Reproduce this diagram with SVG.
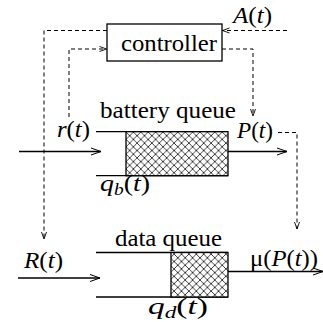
<svg xmlns="http://www.w3.org/2000/svg" width="323" height="322" viewBox="0 0 323 322">
<style>
text{font-family:"Liberation Serif","Times New Roman",serif;font-size:23px;fill:#000}
.i{font-style:italic}
.solid{fill:none;stroke:#000;stroke-width:1.3}
.dash{fill:none;stroke:#000;stroke-width:1;stroke-dasharray:4 3}
.box{fill:#fff;stroke:#000;stroke-width:1.3}
.hatch{fill:url(#xh);stroke:#000;stroke-width:1.3}
</style>
<defs>
<pattern id="xh" patternUnits="userSpaceOnUse" width="7.4" height="7.4" x="126" y="132">
<rect width="7.4" height="7.4" fill="#fff"/>
<path d="M-1,-1 L8.4,8.4 M8.4,-1 L-1,8.4" stroke="#000" stroke-width="0.75"/>
</pattern>
<marker id="as" markerUnits="userSpaceOnUse" markerWidth="12" markerHeight="8" refX="10" refY="3.5" orient="auto" overflow="visible">
<path d="M0,0 L10,3.5 L0,7" fill="none" stroke="#000" stroke-width="1" stroke-dasharray="none"/>
</marker>
<marker id="ad" markerUnits="userSpaceOnUse" markerWidth="8" markerHeight="6" refX="7" refY="2.5" orient="auto" overflow="visible">
<path d="M0,0 L7,2.5 L0,5" fill="none" stroke="#000" stroke-width="0.9" stroke-dasharray="none"/>
</marker>
</defs>

<g id="controller">
<rect class="box" x="107" y="24" width="115" height="37"/>
<text x="121" y="51" textLength="96" lengthAdjust="spacingAndGlyphs">controller</text>
</g>

<g id="battery-queue">
<path class="solid" d="M96,131.7 H228 M96,175.7 H228"/>
<rect class="hatch" x="126" y="131.7" width="102" height="44"/>
<text x="100" y="118" textLength="136" lengthAdjust="spacingAndGlyphs">battery queue</text>
<text x="100" y="191" textLength="50" lengthAdjust="spacingAndGlyphs"><tspan class="i">q</tspan><tspan class="i" font-size="16" dy="4">b</tspan><tspan dy="-4">(</tspan><tspan class="i">t</tspan>)</text>
</g>

<g id="data-queue">
<path class="solid" d="M96,252.5 H228 M96,297 H228"/>
<rect class="hatch" x="171" y="252.5" width="57" height="44.5"/>
<text x="115" y="246" textLength="107" lengthAdjust="spacingAndGlyphs">data queue</text>
<text x="148" y="314" textLength="60" lengthAdjust="spacingAndGlyphs"><tspan class="i">q</tspan><tspan class="i" font-size="16" dy="4">d</tspan><tspan dy="-4">(</tspan><tspan class="i">t</tspan>)</text>
</g>

<g id="labels">
<text x="233" y="23" textLength="39" lengthAdjust="spacingAndGlyphs"><tspan class="i">A</tspan>(<tspan class="i">t</tspan>)</text>
<text x="57" y="137" textLength="33" lengthAdjust="spacingAndGlyphs"><tspan class="i">r</tspan>(<tspan class="i">t</tspan>)</text>
<text x="237" y="138" textLength="36" lengthAdjust="spacingAndGlyphs"><tspan class="i">P</tspan>(<tspan class="i">t</tspan>)</text>
<text x="24" y="268" textLength="39" lengthAdjust="spacingAndGlyphs"><tspan class="i">R</tspan>(<tspan class="i">t</tspan>)</text>
<text x="250" y="266" textLength="68" lengthAdjust="spacingAndGlyphs">μ(<tspan class="i">P</tspan>(<tspan class="i">t</tspan>))</text>
</g>

<g id="connectors">
<path class="dash" d="M287,30.5 H222.5" marker-end="url(#ad)"/>
<path class="dash" d="M107,30.5 H44 V239" marker-end="url(#ad)"/>
<path class="dash" d="M69,117 V49 H106.5" marker-end="url(#ad)"/>
<path class="dash" d="M222,49 H253 V116" marker-end="url(#ad)"/>
<path class="dash" d="M278,132.5 H297 V229" marker-end="url(#ad)"/>
<path class="solid" d="M19,151.5 H101" marker-end="url(#as)"/>
<path class="solid" d="M228,151.5 H287" marker-end="url(#as)"/>
<path class="solid" d="M18,278 H100" marker-end="url(#as)"/>
<path class="solid" d="M228,271.5 H323" marker-end="url(#as)"/>
</g>
</svg>
